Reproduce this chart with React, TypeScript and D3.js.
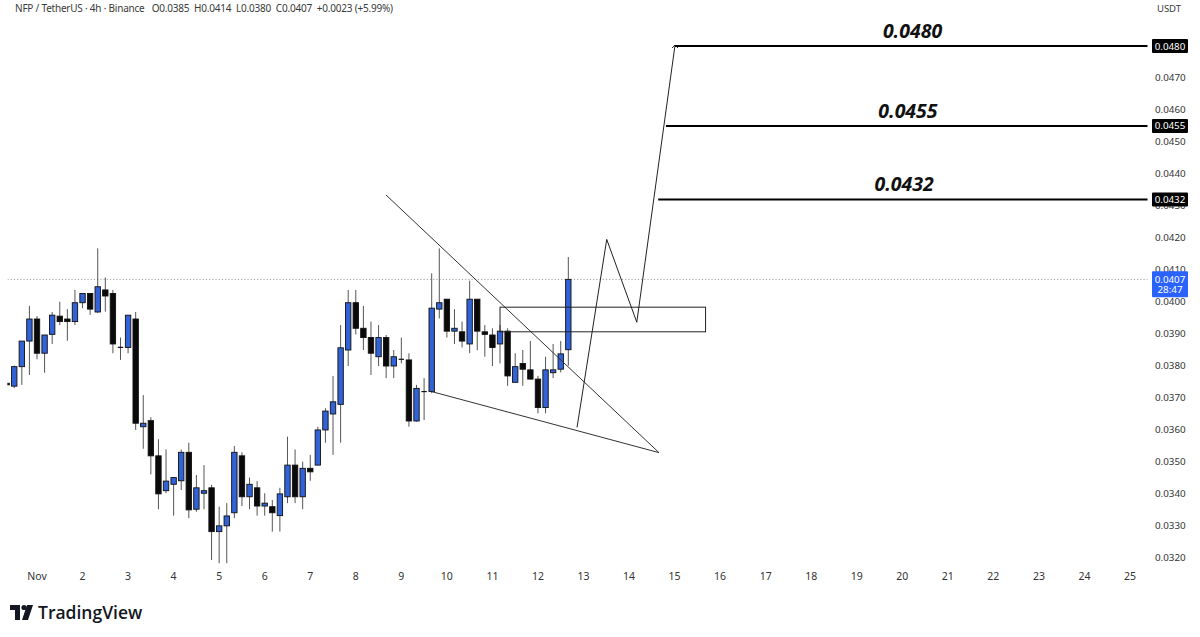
import React from "react";
import * as d3 from "d3";

// ---- Data (4h candles, index 4 = Nov 1 00:00) ----
const opens = [0.03745,0.03736,0.03797,0.03877,0.03946,0.03839,0.03898,0.03955,0.03946,0.03938,0.03997,0.04026,0.03968,0.04037,0.04026,0.03857,0.03857,0.03946,0.03609,0.03628,0.03518,0.03409,0.03429,0.0344,0.03529,0.03351,0.03401,0.03418,0.03281,0.03299,0.0334,0.03518,0.0339,0.03418,0.03361,0.03359,0.03331,0.0339,0.03489,0.0339,0.03479,0.03489,0.03599,0.03649,0.03679,0.03849,0.03997,0.03917,0.03888,0.03828,0.03888,0.03799,0.0382,0.03818,0.03627,0.03719,0.03719,0.03977,0.04008,0.03908,0.03906,0.03868,0.04008,0.03906,0.03896,0.03868,0.03908,0.03748,0.03807,0.03787,0.03758,0.03669,0.03778,0.03789,0.0385];
const highs = [0.0376,0.038,0.03877,0.03987,0.03955,0.03896,0.03968,0.04,0.03977,0.04037,0.04026,0.04026,0.04167,0.04076,0.04037,0.03888,0.03958,0.03968,0.03708,0.03639,0.0357,0.03538,0.0345,0.03538,0.03559,0.03458,0.03489,0.03427,0.03359,0.0337,0.03549,0.03529,0.0345,0.03439,0.03401,0.0338,0.03418,0.03578,0.03538,0.035,0.03521,0.03609,0.03667,0.03768,0.03927,0.04037,0.04037,0.03987,0.03938,0.03927,0.03896,0.03849,0.03888,0.03839,0.0374,0.03761,0.04089,0.04167,0.04008,0.03977,0.03938,0.04066,0.04008,0.03927,0.03917,0.03927,0.03917,0.03839,0.03849,0.03877,0.03768,0.03828,0.03868,0.03877,0.0414];
const lows = [0.0373,0.0373,0.0374,0.03771,0.0382,0.03778,0.03868,0.03927,0.03878,0.03927,0.0398,0.03959,0.03965,0.03969,0.03839,0.03818,0.03839,0.03599,0.0354,0.0346,0.03351,0.03401,0.03331,0.03411,0.03323,0.03343,0.03351,0.03192,0.03182,0.03182,0.03323,0.03361,0.03351,0.03331,0.03331,0.03281,0.03281,0.0337,0.0337,0.03351,0.0344,0.03489,0.03559,0.03521,0.03559,0.03799,0.03898,0.03849,0.03771,0.03799,0.03761,0.03761,0.03807,0.03609,0.03625,0.0363,0.03714,0.03948,0.03888,0.03868,0.03857,0.03839,0.03848,0.03828,0.03799,0.03807,0.03737,0.03748,0.03737,0.03758,0.03651,0.03651,0.03761,0.03779,0.038];
const closes = [0.0374,0.03797,0.03877,0.03946,0.03839,0.03896,0.03958,0.03938,0.03938,0.03997,0.04026,0.03977,0.04047,0.04018,0.03868,0.03857,0.03958,0.0362,0.0362,0.03518,0.03399,0.03439,0.0345,0.03529,0.03349,0.03418,0.03409,0.03281,0.03299,0.0333,0.03529,0.0339,0.03429,0.03361,0.0337,0.0334,0.03399,0.03489,0.0339,0.03479,0.03468,0.03599,0.03658,0.03687,0.03856,0.03997,0.03917,0.03888,0.03839,0.03888,0.03799,0.03828,0.0382,0.03627,0.03729,0.03719,0.0398,0.03997,0.03908,0.03917,0.03877,0.04008,0.03908,0.03898,0.03857,0.03908,0.03768,0.03797,0.03789,0.03758,0.03669,0.03787,0.03787,0.03837,0.0407];
const firstBarOffset = -4; // bars before Nov 1 00:00
const barsPerDay = 6;

const dayLabels = ["Nov","2","3","4","5","6","7","8","9","10","11","12","13","14","15","16","17","18","19","20","21","22","23","24","25"];
const priceTicks = [0.032,0.033,0.034,0.035,0.036,0.037,0.038,0.039,0.04,0.041,0.042,0.043,0.044,0.045,0.046,0.047,0.048];

// targets: [price, start day]
const targetPrices = [0.048, 0.0455, 0.0432];
const targetStartDays = [14.01, 13.81, 13.64];
const lastPrice = 0.0407;
const countdown = "28:47";

// drawings in (day, price)
const upperLine = [[7.664, 0.04334],[13.658, 0.03528]];
const lowerLine = [[8.667, 0.03719],[13.658, 0.03528]];
const zigzag = [[11.858, 0.03607],[12.51, 0.04195],[13.17, 0.03936],[14.01, 0.04803]];
const zoneBox = { t0: 10.167, t1: 14.68, p0: 0.03906, p1: 0.03983 };

const headerText = "NFP / TetherUS · 4h · Binance   O0.0385  H0.0414  L0.0380  C0.0407  +0.0023 (+5.99%)";

const W = 1200, H = 637;
const BLUE = "#3162d6";
const FONT = "'Noto Sans', 'DejaVu Sans', sans-serif";

export default function App() {
  const x = d3.scaleLinear().domain([0, 24]).range([37, 1130]);
  const y = d3.scaleLinear().domain([0.032, 0.048]).range([557.5, 46]);
  const barW = 5.4;
  const tOf = (i: number) => (i + firstBarOffset) / barsPerDay;
  const line = d3.line<number[]>().x(d => x(d[0])).y(d => y(d[1]));

  const zig = zigzag;
  const tip = zig[zig.length - 1];
  const tipX = x(tip[0]), tipY = y(tip[1]);

  return (
    <svg width={W} height={H} style={{ position: "absolute", left: 0, top: 0, background: "#fff" }} fontFamily={FONT}>
      <defs>
        <clipPath id="plot"><rect x={7.5} y={0} width={1140} height={565} /></clipPath>
      </defs>
      <rect width={W} height={H} fill="#fff" />

      {/* header */}
      <text x={15} y={11.5} fontSize={10} fill="#3a3a3a" xmlSpace="preserve" textLength={378} lengthAdjust="spacing">{headerText}</text>
      <text x={1169} y={12} fontSize={9.5} fill="#3a3a3a" textAnchor="middle">USDT</text>

      <g clipPath="url(#plot)">
        {/* last price dotted line */}
        <line x1={7.5} x2={1150} y1={y(lastPrice)} y2={y(lastPrice)} stroke="#9a9a9a" strokeWidth={1} strokeDasharray="1.2,2" />

        {/* candles */}
        {opens.map((o, i) => {
          const c = closes[i];
          const up = c > o;
          const cx = x(tOf(i));
          const top = y(Math.max(o, c));
          const bot = y(Math.min(o, c));
          const h = Math.max(bot - top, 1);
          return (
            <g key={i}>
              <line x1={cx} x2={cx} y1={y(highs[i])} y2={y(lows[i])} stroke="#555" strokeWidth={1} />
              {bot - top < 1.2 ? (
                <line x1={cx - barW / 2} x2={cx + barW / 2} y1={top} y2={top} stroke="#111" strokeWidth={1.2} />
              ) : (
                <rect x={cx - barW / 2} y={top} width={barW} height={h} fill={up ? BLUE : "#0a0a0a"} stroke="#111" strokeWidth={0.9} />
              )}
            </g>
          );
        })}

        {/* wedge lines */}
        <path d={line(upperLine) || ""} fill="none" stroke="#333" strokeWidth={1} />
        <path d={line(lowerLine) || ""} fill="none" stroke="#333" strokeWidth={1} />

        {/* zone box */}
        <rect x={x(zoneBox.t0)} y={y(zoneBox.p1)} width={x(zoneBox.t1) - x(zoneBox.t0)} height={y(zoneBox.p0) - y(zoneBox.p1)} fill="none" stroke="#222" strokeWidth={1} />

        {/* zigzag projection */}
        <path d={line(zig) || ""} fill="none" stroke="#222" strokeWidth={1} />
        <path d={`M${tipX - 3},${tipY + 3} L${tipX},${tipY} L${tipX + 3},${tipY + 3}`} fill="none" stroke="#222" strokeWidth={1} />

        {/* target lines */}
        {targetPrices.map((p, i) => (
          <line key={i} x1={x(targetStartDays[i])} x2={1150} y1={y(p)} y2={y(p)} stroke="#000" strokeWidth={2} />
        ))}
      </g>

      {/* target labels */}
      {targetPrices.map((p, i) => {
        const mid = (x(targetStartDays[i]) + 1150) / 2;
        return (
          <text key={i} x={mid} y={y(p) - 8} fontSize={19.5} fontWeight={700} fontStyle="italic" textAnchor="middle" fill="#111" fontFamily="'Open Sans', sans-serif">
            {p.toFixed(4)}
          </text>
        );
      })}

      {/* right price axis */}
      {priceTicks.map((p, i) => (
        <text key={i} x={1155} y={y(p) + 3.5} fontSize={9.8} fill="#333">{p.toFixed(4)}</text>
      ))}
      {targetPrices.map((p, i) => (
        <g key={i}>
          <rect x={1152} y={y(p) - 7} width={36} height={14} fill="#000" rx={1} />
          <text x={1170} y={y(p) + 3.5} fontSize={9.8} fill="#fff" textAnchor="middle">{p.toFixed(4)}</text>
        </g>
      ))}
      <rect x={1152} y={y(lastPrice) - 8} width={36} height={26} fill="#2962ff" rx={1} />
      <text x={1170} y={y(lastPrice) + 3.5} fontSize={9.8} fill="#fff" textAnchor="middle">{lastPrice.toFixed(4)}</text>
      <text x={1170} y={y(lastPrice) + 14} fontSize={9.8} fill="#fff" textAnchor="middle">{countdown}</text>

      {/* time axis */}
      {dayLabels.map((d, i) => (
        <text key={i} x={x(i)} y={580} fontSize={10.5} fill="#333" textAnchor="middle">{d}</text>
      ))}

      {/* TradingView logo */}
      <g fill="#131722">
        <path d="M10,605 H20 V620 H15 V610 H10 Z" />
        <circle cx={24} cy={607.5} r={2.6} />
        <path d="M27,605 H33 L28,620 H22 Z" />
        <text x={38} y={619} fontSize={17.5} fontWeight={600} fontFamily="'Open Sans', sans-serif">TradingView</text>
      </g>
    </svg>
  );
}
